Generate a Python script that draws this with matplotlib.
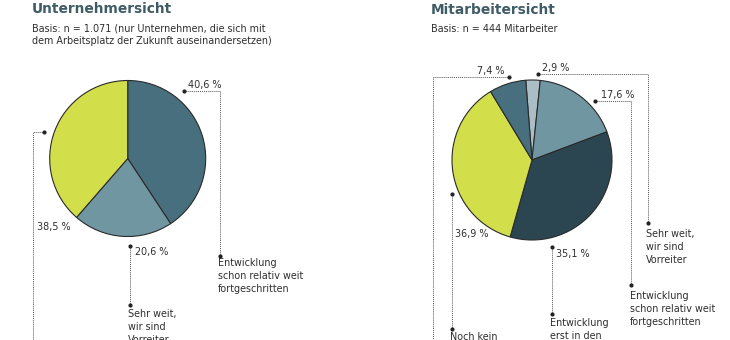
import matplotlib
matplotlib.use("Agg")
import matplotlib.pyplot as plt

# ---- data ----
left_labels = ["Entwicklung\nschon relativ weit\nfortgeschritten", "Sehr weit,\nwir sind\nVorreiter", "Noch kein"]
left_values = [40.6, 20.6, 38.5]
left_colors = ["#476f7d", "#7096a2", "#d3df4a"]

right_labels = ["Sehr weit,\nwir sind\nVorreiter", "Entwicklung\nschon relativ weit\nfortgeschritten",
                "Entwicklung\nerst in den", "Noch kein", "Sonstige"]
right_values = [2.9, 17.6, 35.1, 36.9, 7.4]
right_colors = ["#abbec5", "#7096a2", "#2b4651", "#d3df4a", "#476f7d"]

left_title = "Unternehmersicht"
left_sub = "Basis: n = 1.071 (nur Unternehmen, die sich mit\ndem Arbeitsplatz der Zukunft auseinandersetzen)"
right_title = "Mitarbeitersicht"
right_sub = "Basis: n = 444 Mitarbeiter"

W, H = 730, 340
fig = plt.figure(figsize=(W / 100, H / 100), dpi=100)
ax = fig.add_axes([0, 0, 1, 1])

def Y(y):
    return H - y

def fmt(v):
    return f"{v:.1f}".replace(".", ",") + " %"

TXT = "#2e2e2e"
TITLE = "#3f5c67"
LC = "#555555"

wp = dict(edgecolor="#2a2a2a", linewidth=0.8)
ax.pie(left_values, colors=left_colors, startangle=90, counterclock=False,
       center=(127.7, Y(158.5)), radius=78, wedgeprops=wp)
ax.pie(right_values, colors=right_colors, startangle=94.5, counterclock=False,
       center=(532, Y(160)), radius=80, wedgeprops=wp)

def leader(pts, dots):
    xs = [p[0] for p in pts]
    ys = [Y(p[1]) for p in pts]
    ax.plot(xs, ys, color=LC, linestyle=(0, (1, 1)), linewidth=0.7, zorder=3)
    for d in dots:
        ax.plot(d[0], Y(d[1]), "o", color="#222222", markersize=2.0, zorder=4)

def txt(x, y, s, va="center", **kw):
    ax.text(x, Y(y), s, ha="left", va=va, color=TXT, fontsize=6.9,
            linespacing=1.38, **kw)

# titles
ax.text(32, Y(9), left_title, ha="left", va="center", color=TITLE,
        fontsize=9.9, fontweight="bold")
ax.text(32, Y(23.5), left_sub, ha="left", va="top", color=TXT, fontsize=6.9, linespacing=1.3)
ax.text(431, Y(10.5), right_title, ha="left", va="center", color=TITLE,
        fontsize=9.9, fontweight="bold")
ax.text(431, Y(29), right_sub, ha="left", va="center", color=TXT, fontsize=6.9)

# left annotations
leader([(184, 91), (220, 91), (220, 256)], [(184, 91), (220, 256)])
txt(188, 85, fmt(left_values[0]))
txt(218, 258, left_labels[0], va="top")

leader([(44, 132), (33, 132), (33, 345)], [(44, 132)])
txt(37, 227, fmt(left_values[2]))

leader([(130, 246), (130, 305)], [(130, 246), (130, 305)])
txt(135, 252, fmt(left_values[1]))
txt(128, 309, left_labels[1], va="top")

# right annotations
leader([(509, 77), (433, 77), (433, 345)], [(509, 77)])
txt(477, 71, fmt(right_values[4]))

leader([(538, 74), (648, 74), (648, 223)], [(538, 74), (648, 223)])
txt(542, 68, fmt(right_values[0]))
txt(646, 229, right_labels[0], va="top")

leader([(595, 101), (631, 101), (631, 285)], [(595, 101), (631, 285)])
txt(601, 95, fmt(right_values[1]))
txt(630, 291, right_labels[1], va="top")

leader([(452, 194), (452, 329)], [(452, 194), (452, 329)])
txt(455, 234, fmt(right_values[3]))
txt(450, 332, right_labels[3], va="top")

leader([(552, 247), (552, 314)], [(552, 247), (552, 314)])
txt(556, 254, fmt(right_values[2]))
txt(550, 318, right_labels[2], va="top")

ax.set_xlim(0, W)
ax.set_ylim(0, H)
ax.set_aspect("equal")
ax.axis("off")
fig.savefig("out.png", dpi=100, facecolor="white")
